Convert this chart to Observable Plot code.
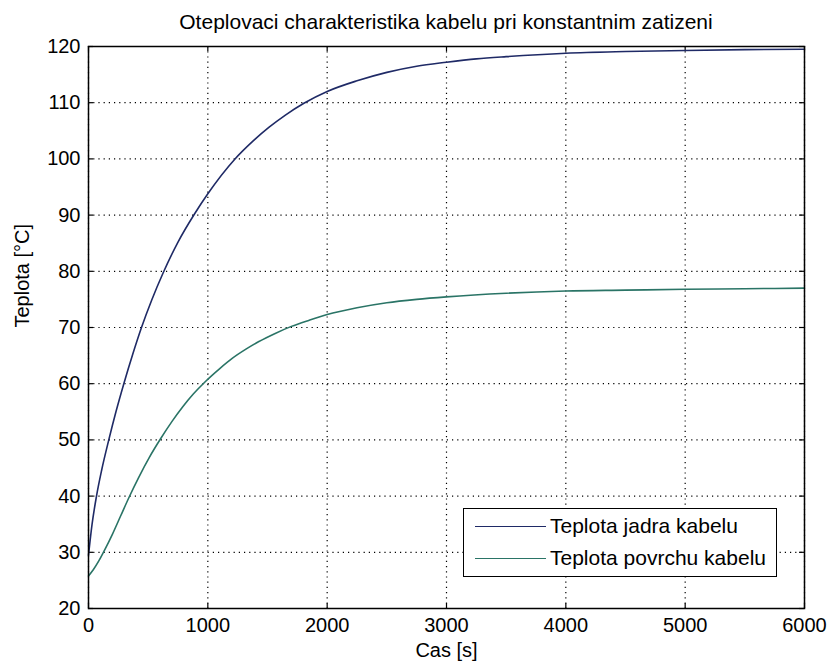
<!DOCTYPE html>
<html>
<head>
<meta charset="utf-8">
<script src="https://cdn.jsdelivr.net/npm/d3@7"></script>
<script src="https://cdn.jsdelivr.net/npm/@observablehq/plot@0.6"></script>
<style>
  html, body { margin: 0; padding: 0; background: #fff; }
  #wrap { position: relative; width: 830px; height: 669px; font-family: "Liberation Sans", Arial, sans-serif; color: #000; }
  #title { height: 34px; box-sizing: border-box; padding-top: 7px; line-height: 30px; font-size: 21px; margin-left: 88px; width: 716px; text-align: center; white-space: nowrap; overflow: visible; }
  #legend { position: absolute; left: 463px; top: 508px; width: 314px; height: 69px; box-sizing: border-box; border: 1.4px solid #000; background: #fff; font-size: 21px; }
  .item { position: absolute; left: 11px; height: 26px; display: flex; align-items: center; white-space: nowrap; }
  .swatch { width: 71px; height: 0; border-top: 1.6px solid; margin-right: 4px; }
</style>
</head>
<body>
<div id="wrap">
  <div id="title"></div>
  <div id="chart"></div>
  <div id="legend"></div>
</div>
<script>
// ---- data ----
const chartTitle = "Oteplovaci charakteristika kabelu pri konstantnim zatizeni";
const xLabel = "Cas [s]";
const yLabel = "Teplota [°C]";
const seriesNames = ["Teplota jadra kabelu", "Teplota povrchu kabelu"];
const seriesColors = ["#1f2a66", "#2a7466"];

const timeCore = [0, 30, 67, 110, 170, 230, 296, 370, 444, 530, 625, 750, 888, 1000, 1224, 1380, 1511, 1650, 1805, 2000, 2250, 2500, 2750, 3000, 3250, 3500, 4000, 4500, 5000, 5500, 6000];
const tempCore = [29.5, 35.0, 40.0, 44.6, 50.0, 55.0, 60.0, 65.2, 70.0, 74.9, 79.7, 85.2, 90.2, 93.8, 99.9, 103.2, 105.6, 107.8, 109.9, 112.0, 113.9, 115.4, 116.5, 117.2, 117.8, 118.2, 118.8, 119.1, 119.3, 119.45, 119.5];

const timeSurface = [0, 40, 90, 140, 200, 270, 340, 420, 510, 604, 700, 790, 880, 980, 1100, 1204, 1316, 1428, 1560, 1700, 1850, 2000, 2250, 2500, 2750, 3000, 3500, 4000, 4500, 5000, 5500, 6000];
const tempSurface = [25.8, 26.9, 28.6, 30.6, 33.2, 36.5, 39.8, 43.3, 46.9, 50.2, 53.3, 55.9, 58.2, 60.4, 62.7, 64.5, 66.1, 67.5, 68.9, 70.2, 71.3, 72.3, 73.5, 74.4, 75.0, 75.45, 76.1, 76.5, 76.65, 76.8, 76.9, 77.0];

const xTicks = [0, 1000, 2000, 3000, 4000, 5000, 6000];
const yTicks = [20, 30, 40, 50, 60, 70, 80, 90, 100, 110, 120];

// ---- build table ----
const rows = [
  ...timeCore.map((t, i) => ({t, v: tempCore[i], s: seriesNames[0]})),
  ...timeSurface.map((t, i) => ({t, v: tempSurface[i], s: seriesNames[1]}))
];

document.getElementById("title").textContent = chartTitle;

const W = 830, H = 635, mL = 88, mR = 26, mT = 12, mB = 61;
const fw = W - mL - mR, fh = H - mT - mB, tick = 5;

const chart = Plot.plot({
  width: W, height: H,
  marginLeft: mL, marginRight: mR, marginTop: mT, marginBottom: mB,
  style: {fontFamily: "'Liberation Sans', Arial, sans-serif", fontSize: "20px", color: "#000", background: "#fff", overflow: "visible"},
  x: {domain: [0, 6000], ticks: xTicks, tickFormat: "d", tickSize: 0, tickPadding: 9, label: null},
  y: {domain: [20, 120], ticks: yTicks, tickFormat: "d", tickSize: 0, tickPadding: 8, label: null},
  color: {domain: seriesNames, range: seriesColors},
  marks: [
    Plot.ruleX(xTicks, {x: d => d, stroke: "#000", strokeDasharray: "1.2,4", strokeWidth: 1.2}),
    Plot.ruleY(yTicks, {y: d => d, stroke: "#000", strokeDasharray: "1.2,4", strokeWidth: 1.2}),
    Plot.ruleX(xTicks, {x: d => d, insetTop: fh - tick, stroke: "#000", strokeWidth: 1.2}),
    Plot.ruleX(xTicks, {x: d => d, insetBottom: fh - tick, stroke: "#000", strokeWidth: 1.2}),
    Plot.ruleY(yTicks, {y: d => d, insetRight: fw - tick, stroke: "#000", strokeWidth: 1.2}),
    Plot.ruleY(yTicks, {y: d => d, insetLeft: fw - tick, stroke: "#000", strokeWidth: 1.2}),
    Plot.line(rows, {x: "t", y: "v", z: "s", stroke: "s", strokeWidth: 1.6, curve: "monotone-x"}),
    Plot.frame({stroke: "#000", strokeWidth: 1.5}),
    Plot.text([xLabel], {text: d => d, frameAnchor: "bottom", dy: 48, fontSize: 20}),
    Plot.text([yLabel], {text: d => d, frameAnchor: "left", dx: -66, rotate: -90, fontSize: 20})
  ]
});
document.getElementById("chart").appendChild(chart);

// ---- legend ----
const legend = document.getElementById("legend");
seriesNames.forEach((name, i) => {
  const item = document.createElement("div");
  item.className = "item";
  item.style.top = (4 + i * 32) + "px";
  const sw = document.createElement("span");
  sw.className = "swatch";
  sw.style.borderTopColor = seriesColors[i];
  const label = document.createElement("span");
  label.textContent = name;
  item.appendChild(sw);
  item.appendChild(label);
  legend.appendChild(item);
});
</script>
</body>
</html>
